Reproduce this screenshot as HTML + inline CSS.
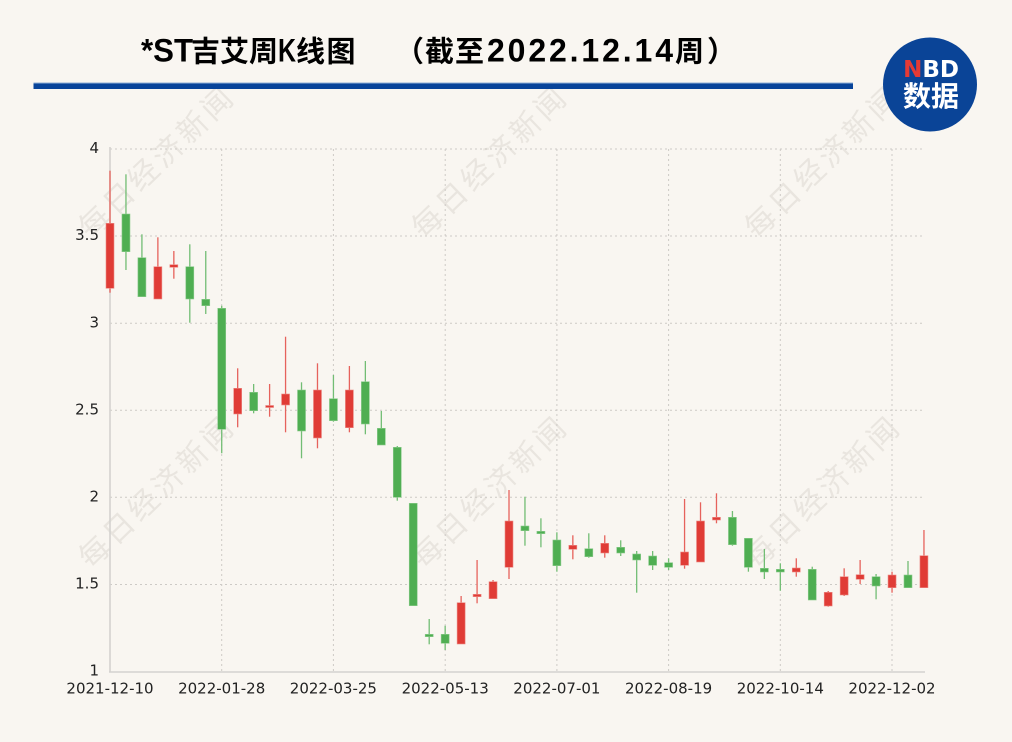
<!DOCTYPE html>
<html><head><meta charset="utf-8"><style>
html,body{margin:0;padding:0;background:#f9f6f1;}
svg{display:block;}
</style></head><body>
<svg width="1012" height="742" viewBox="0 0 1012 742" xmlns="http://www.w3.org/2000/svg">
<rect width="1012" height="742" fill="#f9f6f1"/>
<!-- watermarks -->
<g font-family="'Liberation Sans','Noto Sans CJK SC',sans-serif" font-size="30" fill="#e9e5df" letter-spacing="4">
<text transform="translate(91,240) rotate(-44)">每日经济新闻</text>
<text transform="translate(424,240) rotate(-44)">每日经济新闻</text>
<text transform="translate(757,240) rotate(-44)">每日经济新闻</text>
<text transform="translate(91,570) rotate(-44)">每日经济新闻</text>
<text transform="translate(424,570) rotate(-44)">每日经济新闻</text>
<text transform="translate(757,570) rotate(-44)">每日经济新闻</text>
</g>
<!-- title -->
<g font-weight="bold" fill="#000">
<text x="141" y="61.5" font-family="'Liberation Sans',sans-serif" font-size="32" textLength="52" lengthAdjust="spacingAndGlyphs">*ST</text>
<text x="191" y="61.5" font-family="'Noto Sans CJK SC',sans-serif" font-size="29">吉艾周</text>
<text x="278" y="61.5" font-family="'Liberation Sans',sans-serif" font-size="32" textLength="18" lengthAdjust="spacingAndGlyphs">K</text>
<text x="296" y="61.5" font-family="'Noto Sans CJK SC',sans-serif" font-size="29" letter-spacing="1.5">线图</text>
<text x="395" y="61.5" font-family="'Noto Sans CJK SC',sans-serif" font-size="29" letter-spacing="1">（截至</text>
<text x="487" y="61.5" font-family="'Liberation Sans',sans-serif" font-size="32" textLength="186" lengthAdjust="spacing">2022.12.14</text>
<text x="675" y="61.5" font-family="'Noto Sans CJK SC',sans-serif" font-size="29" letter-spacing="3">周）</text>
</g>
<!-- blue bar -->
<rect x="33.5" y="82.5" width="819.5" height="1" fill="#8fb0d8"/>
<rect x="33.5" y="83.5" width="819.5" height="5.5" fill="#08449a"/>
<!-- logo -->
<circle cx="930" cy="84.5" r="47" fill="#0a4497"/>
<text x="931" y="77" text-anchor="middle" font-family="'DejaVu Sans',sans-serif" font-weight="bold" font-size="23"><tspan fill="#e53a35">N</tspan><tspan fill="#ffffff">BD</tspan></text>
<text x="931" y="106" text-anchor="middle" font-family="'Noto Sans CJK SC',sans-serif" font-weight="bold" font-size="28" fill="#ffffff">数据</text>
<!-- grid -->
<g stroke="#cdcac6" stroke-width="1" stroke-dasharray="2,3" fill="none">
<line x1="110" y1="149" x2="922" y2="149"/>
<line x1="110" y1="236" x2="922" y2="236"/>
<line x1="110" y1="323.3" x2="922" y2="323.3"/>
<line x1="110" y1="410.3" x2="922" y2="410.3"/>
<line x1="110" y1="497.3" x2="922" y2="497.3"/>
<line x1="110" y1="584.5" x2="922" y2="584.5"/>
<line x1="221.7" y1="149" x2="221.7" y2="672"/>
<line x1="333.4" y1="149" x2="333.4" y2="672"/>
<line x1="445.2" y1="149" x2="445.2" y2="672"/>
<line x1="556.9" y1="149" x2="556.9" y2="672"/>
<line x1="668.6" y1="149" x2="668.6" y2="672"/>
<line x1="780.3" y1="149" x2="780.3" y2="672"/>
<line x1="892" y1="149" x2="892" y2="672"/>
</g>
<!-- axes -->
<line x1="110" y1="147" x2="110" y2="672" stroke="#d4d2cf" stroke-width="1.6"/>
<line x1="109" y1="672" x2="925" y2="672" stroke="#d4d2cf" stroke-width="1.6"/>
<!-- y labels -->
<g font-family="'DejaVu Sans',sans-serif" font-size="15" fill="#222" text-anchor="end">
<text x="99" y="153">4</text>
<text x="99" y="240">3.5</text>
<text x="99" y="327.5">3</text>
<text x="99" y="414.5">2.5</text>
<text x="99" y="501.5">2</text>
<text x="99" y="588.5">1.5</text>
<text x="99" y="675.5">1</text>
</g>
<!-- x labels -->
<g font-family="'DejaVu Sans',sans-serif" font-size="15" fill="#222" text-anchor="middle">
<text x="110" y="693.5">2021-12-10</text>
<text x="221.7" y="693.5">2022-01-28</text>
<text x="333.4" y="693.5">2022-03-25</text>
<text x="445.2" y="693.5">2022-05-13</text>
<text x="556.9" y="693.5">2022-07-01</text>
<text x="668.6" y="693.5">2022-08-19</text>
<text x="780.3" y="693.5">2022-10-14</text>
<text x="892" y="693.5">2022-12-02</text>
</g>
<!-- red candles -->
<g stroke="#e6625c" stroke-width="1.3">
<line x1="110" y1="170.7" x2="110" y2="292.7"/>
<line x1="157.88" y1="237.3" x2="157.88" y2="299"/>
<line x1="173.84" y1="251" x2="173.84" y2="278.7"/>
<line x1="237.68" y1="368.3" x2="237.68" y2="427.3"/>
<line x1="269.6" y1="384" x2="269.6" y2="416.7"/>
<line x1="285.56" y1="336.7" x2="285.56" y2="432.3"/>
<line x1="317.48" y1="363.3" x2="317.48" y2="448.3"/>
<line x1="349.4" y1="366" x2="349.4" y2="432.3"/>
<line x1="461.12" y1="596" x2="461.12" y2="644"/>
<line x1="477.08" y1="560" x2="477.08" y2="603.3"/>
<line x1="493.04" y1="580" x2="493.04" y2="598.7"/>
<line x1="509" y1="490" x2="509" y2="579"/>
<line x1="572.84" y1="535.3" x2="572.84" y2="559.3"/>
<line x1="604.76" y1="535.3" x2="604.76" y2="557.7"/>
<line x1="684.56" y1="499" x2="684.56" y2="568.7"/>
<line x1="700.52" y1="502.3" x2="700.52" y2="562"/>
<line x1="716.48" y1="493.3" x2="716.48" y2="523.3"/>
<line x1="796.28" y1="558.3" x2="796.28" y2="576.7"/>
<line x1="828.2" y1="591" x2="828.2" y2="606.7"/>
<line x1="844.16" y1="568.3" x2="844.16" y2="596"/>
<line x1="860.12" y1="560" x2="860.12" y2="584"/>
<line x1="892.04" y1="571.7" x2="892.04" y2="592.7"/>
<line x1="923.96" y1="530" x2="923.96" y2="587.7"/>
</g>
<g fill="#e03c36" stroke="#ec8a85" stroke-width="0.6">
<rect x="106" y="223.3" width="8" height="65"/>
<rect x="153.88" y="266.7" width="8" height="32.3"/>
<rect x="169.84" y="264.7" width="8" height="2.6"/>
<rect x="233.68" y="388.3" width="8" height="25.7"/>
<rect x="265.6" y="405.5" width="8" height="2"/>
<rect x="281.56" y="394" width="8" height="11"/>
<rect x="313.48" y="390" width="8" height="48"/>
<rect x="345.4" y="390" width="8" height="37.7"/>
<rect x="457.12" y="602.7" width="8" height="41.3"/>
<rect x="473.08" y="594.3" width="8" height="2.4"/>
<rect x="489.04" y="581.7" width="8" height="17"/>
<rect x="505" y="521" width="8" height="46.3"/>
<rect x="568.84" y="545.3" width="8" height="4"/>
<rect x="600.76" y="543.3" width="8" height="9.7"/>
<rect x="680.56" y="552" width="8" height="13.3"/>
<rect x="696.52" y="521" width="8" height="41"/>
<rect x="712.48" y="517.3" width="8" height="2.7"/>
<rect x="792.28" y="568" width="8" height="4"/>
<rect x="824.2" y="592.3" width="8" height="13.7"/>
<rect x="840.16" y="576.7" width="8" height="18.3"/>
<rect x="856.12" y="574.7" width="8" height="4.6"/>
<rect x="888.04" y="575" width="8" height="12.7"/>
<rect x="919.96" y="555.7" width="8" height="32"/>
</g>
<!-- green candles -->
<g stroke="#72bd74" stroke-width="1.3">
<line x1="125.96" y1="174.3" x2="125.96" y2="270"/>
<line x1="141.92" y1="234.3" x2="141.92" y2="296.7"/>
<line x1="189.8" y1="244.3" x2="189.8" y2="322.7"/>
<line x1="205.76" y1="251" x2="205.76" y2="314"/>
<line x1="221.72" y1="305.7" x2="221.72" y2="453.3"/>
<line x1="253.64" y1="384" x2="253.64" y2="413.3"/>
<line x1="301.52" y1="382.3" x2="301.52" y2="458.3"/>
<line x1="333.44" y1="375" x2="333.44" y2="421.7"/>
<line x1="365.36" y1="361" x2="365.36" y2="434.3"/>
<line x1="381.32" y1="411" x2="381.32" y2="445"/>
<line x1="397.28" y1="446" x2="397.28" y2="500.7"/>
<line x1="429.2" y1="619" x2="429.2" y2="644.3"/>
<line x1="445.16" y1="625.7" x2="445.16" y2="650"/>
<line x1="524.96" y1="496.7" x2="524.96" y2="545.7"/>
<line x1="540.92" y1="518.3" x2="540.92" y2="547.3"/>
<line x1="556.88" y1="532.3" x2="556.88" y2="571.7"/>
<line x1="588.8" y1="533.3" x2="588.8" y2="557.7"/>
<line x1="620.72" y1="540.3" x2="620.72" y2="556"/>
<line x1="636.68" y1="551" x2="636.68" y2="592.7"/>
<line x1="652.64" y1="551" x2="652.64" y2="570"/>
<line x1="668.6" y1="558.3" x2="668.6" y2="570"/>
<line x1="732.44" y1="511" x2="732.44" y2="545.7"/>
<line x1="748.4" y1="538.3" x2="748.4" y2="571.7"/>
<line x1="764.36" y1="549" x2="764.36" y2="579"/>
<line x1="780.32" y1="563.3" x2="780.32" y2="590.7"/>
<line x1="812.24" y1="566.7" x2="812.24" y2="600"/>
<line x1="876.08" y1="574" x2="876.08" y2="599.3"/>
<line x1="908" y1="561" x2="908" y2="587.7"/>
</g>
<g fill="#4fae52" stroke="#8ccb8d" stroke-width="0.6">
<rect x="121.96" y="214" width="8" height="37.7"/>
<rect x="137.92" y="257.7" width="8" height="39"/>
<rect x="185.8" y="266.7" width="8" height="32.3"/>
<rect x="201.76" y="299.3" width="8" height="6.4"/>
<rect x="217.72" y="308.3" width="8" height="121"/>
<rect x="249.64" y="392.3" width="8" height="18.4"/>
<rect x="297.52" y="390" width="8" height="41"/>
<rect x="329.44" y="398.7" width="8" height="22"/>
<rect x="361.36" y="381.7" width="8" height="42.3"/>
<rect x="377.32" y="428.3" width="8" height="16.7"/>
<rect x="393.28" y="447.3" width="8" height="50"/>
<rect x="409.24" y="503.3" width="8" height="102.4"/>
<rect x="425.2" y="634.3" width="8" height="2.4"/>
<rect x="441.16" y="634.3" width="8" height="9"/>
<rect x="520.96" y="526" width="8" height="4.7"/>
<rect x="536.92" y="531.3" width="8" height="2.4"/>
<rect x="552.88" y="540" width="8" height="25.7"/>
<rect x="584.8" y="548.7" width="8" height="8"/>
<rect x="616.72" y="547.3" width="8" height="5.7"/>
<rect x="632.68" y="554" width="8" height="6"/>
<rect x="648.64" y="556" width="8" height="9.3"/>
<rect x="664.6" y="562.7" width="8" height="4.6"/>
<rect x="728.44" y="517.3" width="8" height="27.4"/>
<rect x="744.4" y="538.3" width="8" height="29"/>
<rect x="760.36" y="568.3" width="8" height="3.7"/>
<rect x="776.32" y="569.3" width="8" height="2.7"/>
<rect x="808.24" y="569.3" width="8" height="30.7"/>
<rect x="872.08" y="576.7" width="8" height="9.3"/>
<rect x="904" y="575" width="8" height="12.7"/>
</g>
</svg>
</body></html>
